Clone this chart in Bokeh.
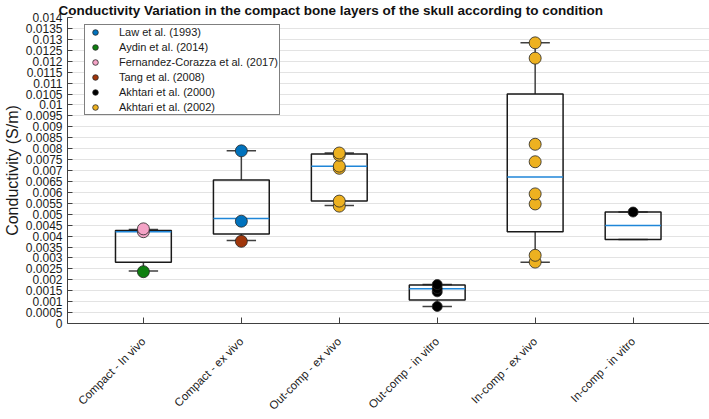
import numpy as np
from bokeh.plotting import figure
from bokeh.models import (ColumnDataSource, FixedTicker, CustomJSTickFormatter,
                          Legend, LegendItem, Range1d)
from bokeh.embed import file_html
from bokeh.resources import INLINE

# ---------------- data ----------------
categories = ["Compact - In vivo", "Compact - ex vivo", "Out-comp - ex vivo",
              "Out-comp - in vitro", "In-comp - ex vivo", "In-comp - in vitro"]
cat_pos = [1, 2, 3, 4, 5, 6]

# box statistics
box_q1 = [0.0028, 0.0041, 0.0056, 0.00107, 0.0042, 0.00384]
box_median = [0.0042, 0.0048, 0.00719, 0.00159, 0.0067, 0.00448]
box_q3 = [0.00425, 0.00656, 0.00776, 0.00176, 0.0105, 0.0051]
whisker_low = [0.0024, 0.0038, 0.0054, 0.00078, 0.0028, 0.00384]
whisker_high = [0.0043, 0.0079, 0.0078, 0.00178, 0.01284, 0.0051]

# individual study points (category position, conductivity)
law_x = [2, 2]
law_y = [0.0079, 0.00468]
aydin_x = [1]
aydin_y = [0.00237]
fernandez_x = [1, 1]
fernandez_y = [0.0042, 0.00433]
tang_x = [2]
tang_y = [0.00376]
akhtari2000_x = [4, 4, 4, 4, 6]
akhtari2000_y = [0.00078, 0.00145, 0.0016, 0.00178, 0.0051]
akhtari2002_x = [3, 3, 3, 3, 3, 3, 5, 5, 5, 5, 5, 5, 5, 5]
akhtari2002_y = [0.00537, 0.0056, 0.0071, 0.0072, 0.0077, 0.0078,
                 0.00281, 0.00312, 0.00547, 0.00593, 0.0074, 0.0082, 0.01214, 0.01284]

study_names = ["Law et al. (1993)", "Aydin et al. (2014)", "Fernandez-Corazza et al. (2017)",
               "Tang et al. (2008)", "Akhtari et al. (2000)", "Akhtari et al. (2002)"]
study_colors = ["#0072BD", "#0E7F10", "#F4A3C6", "#A0360B", "#000000", "#EDB120"]
study_x = [law_x, aydin_x, fernandez_x, tang_x, akhtari2000_x, akhtari2002_x]
study_y = [law_y, aydin_y, fernandez_y, tang_y, akhtari2000_y, akhtari2002_y]

y_ticks = [round(i * 0.0005, 4) for i in range(29)]

# ---------------- figure ----------------
FONT = "Liberation Sans"
p = figure(width=709, height=419, output_backend="svg", toolbar_location=None,
           x_range=Range1d(0.225, 6.78), y_range=Range1d(0, 0.014),
           min_border_left=66, min_border_right=0, min_border_top=17, min_border_bottom=96)
p.outline_line_color = None
p.background_fill_color = "white"
p.border_fill_color = "white"

p.title.text = "Conductivity Variation in the compact bone layers of the skull according to condition"
p.title.text_font = FONT
p.title.text_font_size = "13.5px"
p.title.text_font_style = "bold"
p.title.text_color = "#111111"
p.title.align = "left"
p.title.offset = -9
p.title.standoff = 0

# grid
p.xgrid.grid_line_color = None
p.ygrid.grid_line_color = "#e3e3e3"
p.ygrid.grid_line_width = 1
p.ygrid.ticker = FixedTicker(ticks=y_ticks)

# y axis
p.yaxis.ticker = FixedTicker(ticks=y_ticks)
p.yaxis.formatter = CustomJSTickFormatter(code="return parseFloat(tick.toFixed(4)).toString();")
p.yaxis.axis_label = "Conductivity (S/m)"
p.yaxis.axis_label_text_font = FONT
p.yaxis.axis_label_text_font_size = "16px"
p.yaxis.axis_label_text_font_style = "normal"
p.yaxis.axis_label_text_color = "#1a1a1a"
p.yaxis.axis_label_standoff = 2
p.yaxis.major_label_text_font = FONT
p.yaxis.major_label_text_font_size = "12px"
p.yaxis.major_label_text_color = "#1a1a1a"
p.yaxis.major_label_standoff = 5
p.yaxis.major_tick_in = 5
p.yaxis.major_tick_out = 0
p.yaxis.minor_tick_line_color = None
p.yaxis.axis_line_color = "#404040"
p.yaxis.major_tick_line_color = "#404040"

# x axis
p.xaxis.ticker = FixedTicker(ticks=cat_pos)
p.xaxis.major_label_overrides = {pos: lab for pos, lab in zip(cat_pos, categories)}
p.xaxis.major_label_orientation = np.pi / 4
p.xaxis.major_label_text_font = FONT
p.xaxis.major_label_text_font_size = "11.5px"
p.xaxis.major_label_text_color = "#1a1a1a"
p.xaxis.major_label_standoff = 16
p.xaxis.major_tick_in = 6
p.xaxis.major_tick_out = 0
p.xaxis.minor_tick_line_color = None
p.xaxis.axis_line_color = "#404040"
p.xaxis.major_tick_line_color = "#404040"

# ---------------- boxes ----------------
pos = np.array(cat_pos, dtype=float)
half_box = 0.285
half_cap = 0.15
box_src = ColumnDataSource(dict(
    x=pos, left=pos - half_box, right=pos + half_box,
    q1=box_q1, q3=box_q3, med=box_median, lo=whisker_low, hi=whisker_high,
    cl=pos - half_cap, cr=pos + half_cap))

p.segment(x0="x", y0="q3", x1="x", y1="hi", source=box_src, line_color="#404040", line_width=1.5)
p.segment(x0="x", y0="q1", x1="x", y1="lo", source=box_src, line_color="#404040", line_width=1.5)
p.segment(x0="cl", y0="hi", x1="cr", y1="hi", source=box_src, line_color="#404040", line_width=1.5)
p.segment(x0="cl", y0="lo", x1="cr", y1="lo", source=box_src, line_color="#404040", line_width=1.5)
p.quad(left="left", right="right", bottom="q1", top="q3", source=box_src,
       fill_alpha=0, line_color="#1a1a1a", line_width=1.5)
p.segment(x0="left", y0="med", x1="right", y1="med", source=box_src,
          line_color="#1f86d8", line_width=1.5)

# ---------------- points ----------------
items = []
for name, col, xs, ys in zip(study_names, study_colors, study_x, study_y):
    size = 10 if col == "#000000" else 12
    r = p.scatter(x=xs, y=ys, size=size, marker="circle", fill_color=col,
                  line_color="#262626", line_width=0.8)
    items.append(LegendItem(label=name, renderers=[r]))

legend = Legend(items=items, location=(17, 208))
legend.label_text_font = FONT
legend.label_text_font_size = "11px"
legend.label_text_color = "#1a1a1a"
legend.label_height = 14
legend.glyph_height = 14
legend.glyph_width = 20
legend.label_width = 160
legend.spacing = 1
legend.padding = 0
legend.margin = 0
legend.label_standoff = 14
legend.border_line_color = "black"
legend.border_line_width = 1.5
legend.background_fill_color = "white"
legend.background_fill_alpha = 1
p.add_layout(legend, "center")

open("out.html", "w").write(file_html(p, INLINE))
